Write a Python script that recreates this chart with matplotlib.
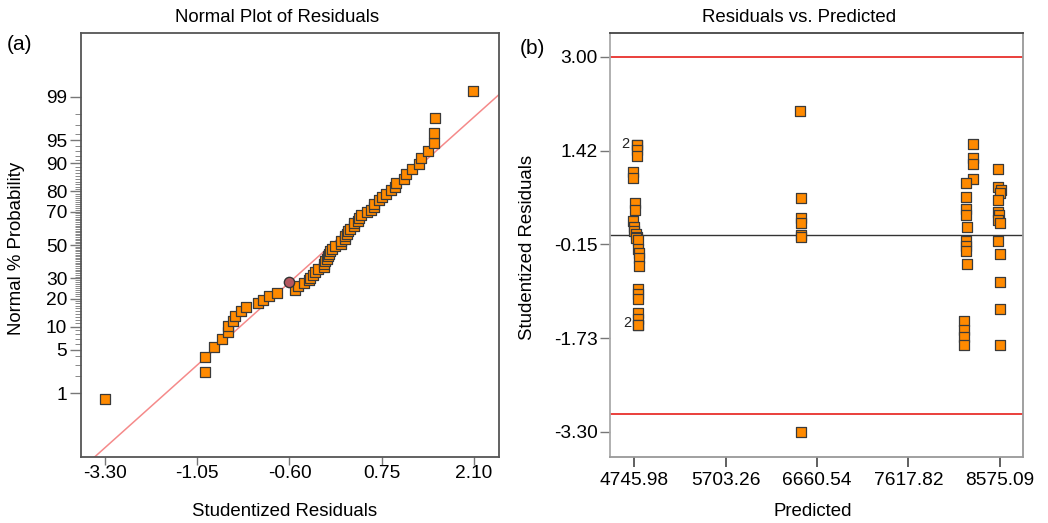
import matplotlib
matplotlib.use("Agg")
import matplotlib.pyplot as plt
import numpy as np
from collections import Counter
from statistics import NormalDist

plt.rcParams['font.family'] = ['Liberation Sans', 'DejaVu Sans']

# predicted value and studentized residual of each run
predicted = [4771, 4771, 4771, 4771, 4735, 4735, 4753, 4753, 4735, 4740, 4745, 4760, 4775,
             4765, 4790, 4790, 4800, 4800, 4800, 4790, 4790, 4790, 4790, 4790, 4790, 4790,
             6479, 6490, 6490, 6490, 6490, 6490, 6497,
             8290, 8290, 8290, 8290, 8216, 8216, 8225, 8225, 8235, 8225, 8225, 8225, 8235,
             8195, 8195, 8195, 8195,
             8555, 8555, 8590, 8575, 8555, 8555, 8565, 8560, 8575, 8560, 8575, 8580, 8580, 8580]
residuals = [1.52, 1.52, 1.43, 1.33, 1.07, 0.96, 0.54, 0.42, 0.24, 0.15, 0.07, 0.02, -0.02,
             -0.05, -0.08, -0.22, -0.30, -0.38, -0.52, -0.90, -0.99, -1.06, -1.31, -1.40, -1.50, -1.50,
             2.09, 0.63, 0.29, 0.21, 0.00, -0.03, -3.30,
             1.53, 1.30, 1.20, 0.94, 0.88, 0.64, 0.45, 0.34, 0.15, -0.10, -0.18, -0.26, -0.48,
             -1.43, -1.59, -1.71, -1.84,
             1.11, 0.81, 0.76, 0.71, 0.60, 0.40, 0.34, 0.26, 0.21, -0.10, -0.31, -0.78, -1.24, -1.84]

# normal plot settings
prob_ticks = [1, 5, 10, 20, 30, 50, 70, 80, 90, 95, 99]
resid_ticks = [-3.30, -1.95, -0.60, 0.75, 2.10]
resid_labels = ["-3.30", "-1.05", "-0.60", "0.75", "2.10"]
fit_slope = 0.962
fit_intercept = -0.01
highlight_point = (-0.60, 28.0)

# residuals vs predicted settings
pred_ticks = [4745.98, 5703.26, 6660.54, 7617.82, 8575.09]
pred_labels = ["4745.98", "5703.26", "6660.54", "7617.82", "8575.09"]
stud_ticks = [3.00, 1.42, -0.15, -1.73, -3.30]
stud_labels = ["3.00", "1.42", "-0.15", "-1.73", "-3.30"]
limit_lines = [3.00, -3.00]
zero_line = 0.0

nd = NormalDist()
orange = '#ff8a00'
edge = '#3a3a3a'
TICK_FS = 13.8
LABEL_FS = 13.4

fig = plt.figure(figsize=(10.48, 5.23), dpi=100)

# ---------- (a) normal plot ----------
ax1 = fig.add_axes([81/1048, 1-457/523, 418/1048, 424/523])
sorted_res = np.sort(residuals)
n = len(sorted_res)
z_vals = [nd.inv_cdf((i + 0.5) / n) for i in range(n)]

xlim1 = (-3.65, 2.466)
xs = np.array(xlim1)
ax1.plot(xs, fit_slope * xs + fit_intercept, color='#f58a8a', lw=1.1, zorder=1)
ax1.scatter(sorted_res, z_vals, marker='s', s=44, facecolor=orange, edgecolor=edge,
            linewidths=0.9, zorder=3)
ax1.scatter([highlight_point[0]], [nd.inv_cdf(highlight_point[1] / 100)], marker='o', s=55,
            facecolor='#b5575f', edgecolor='#333', linewidths=1.0, zorder=4)

ax1.set_xlim(*xlim1)
ax1.set_ylim(-3.33, 3.33)
ax1.set_xticks(resid_ticks)
ax1.set_xticklabels(resid_labels)
ax1.set_yticks([nd.inv_cdf(p / 100) for p in prob_ticks])
ax1.set_yticklabels([str(p) for p in prob_ticks])
minor_p = [p for p in range(1, 100) if p not in prob_ticks]
ax1.set_yticks([nd.inv_cdf(p / 100) for p in minor_p], minor=True)
ax1.tick_params(axis='y', which='major', length=8, width=1, color='#777', pad=2, labelsize=TICK_FS)
ax1.tick_params(axis='y', which='minor', length=4.5, width=0.7, color='#888')
ax1.tick_params(axis='x', length=6, width=1, color='#777', pad=0, labelsize=TICK_FS)
for sp in ax1.spines.values():
    sp.set_color('#555')
    sp.set_linewidth(1.3)

fig.text(277/1048, 1-18/523, "Normal Plot of Residuals", ha='center', va='center', fontsize=LABEL_FS)
fig.text(285/1048, 1-512/523, "Studentized Residuals", ha='center', va='center', fontsize=LABEL_FS)
fig.text(17/1048, 1-248/523, "Normal % Probability", ha='center', va='center', fontsize=LABEL_FS,
         rotation=90)
fig.text(20/1048, 1-45/523, "(a)", ha='center', va='center', fontsize=15)

# ---------- (b) residuals vs predicted ----------
ax2 = fig.add_axes([610/1048, 1-457/523, 413/1048, 424/523])
for v in limit_lines:
    ax2.axhline(v, color='#e8302c', lw=1.3, zorder=1)
ax2.axhline(zero_line, color='#333', lw=1.0, zorder=1)
ax2.scatter(predicted, residuals, marker='s', s=44, facecolor=orange, edgecolor=edge,
            linewidths=0.9, zorder=3)

counts = Counter(zip(predicted, residuals))
for (px, r), c in counts.items():
    if c > 1:
        ax2.annotate(str(c), (px, r), xytext=(-5, 1), textcoords='offset points',
                     ha='right', va='center', fontsize=10.5, color='#222')

ax2.set_xlim(4492, 8818)
ax2.set_ylim(-3.72, 3.40)
ax2.set_xticks(pred_ticks)
ax2.set_xticklabels(pred_labels)
ax2.set_yticks(stud_ticks)
ax2.set_yticklabels(stud_labels)
ax2.tick_params(axis='x', length=7, width=1.2, color='#444', pad=4, labelsize=TICK_FS)
ax2.tick_params(axis='y', length=7, width=1, color='#777', pad=2, labelsize=TICK_FS)
ax2.spines['top'].set_color('#444')
ax2.spines['right'].set_color('#999')
ax2.spines['left'].set_color('#aaa')
ax2.spines['bottom'].set_color('#999')
for sp in ax2.spines.values():
    sp.set_linewidth(1.3)

fig.text(799/1048, 1-18/523, "Residuals vs. Predicted", ha='center', va='center', fontsize=LABEL_FS)
fig.text(813/1048, 1-512/523, "Predicted", ha='center', va='center', fontsize=LABEL_FS)
fig.text(527/1048, 1-247/523, "Studentized Residuals", ha='center', va='center', fontsize=LABEL_FS,
         rotation=90)
fig.text(532/1048, 1-48/523, "(b)", ha='center', va='center', fontsize=15)

fig.savefig("out.png", dpi=100)
